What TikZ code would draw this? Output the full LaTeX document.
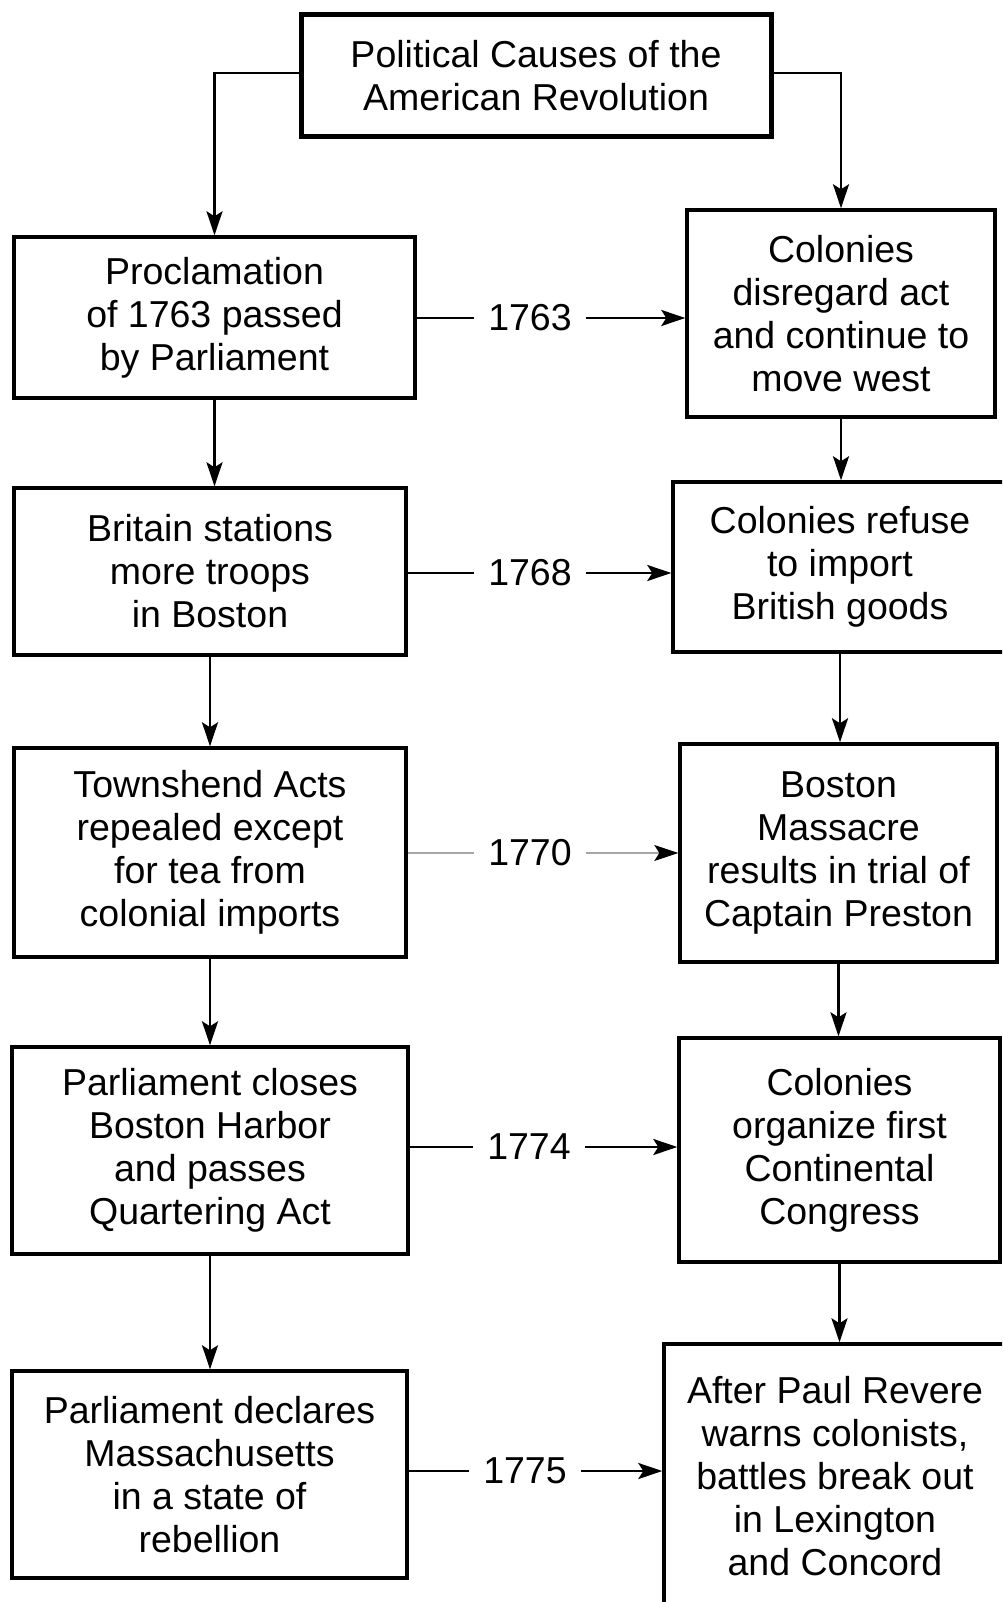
\documentclass[tikz,border=0pt]{standalone}
\usepackage{fontspec}
\setmainfont{Liberation Sans}
\usetikzlibrary{arrows.meta}

\tikzset{
  box/.style={draw, rectangle, line width=3.4pt, inner sep=0pt, align=center,
              font=\fontsize{37.5}{43}\selectfont},
  headbox/.style={box, line width=5pt},
  year/.style={inner xsep=14pt, inner ysep=2pt, font=\fontsize{37.5}{43}\selectfont},
  tip/.style={-{Stealth[length=24pt, width=16pt, inset=5pt]}},
  conn/.style={line width=2.6pt, tip},
  plain/.style={line width=2.6pt},
  faint/.style={line width=1.2pt, draw=black!35},
  faintarrow/.style={faint, -{Stealth[length=24pt, width=16pt, inset=5pt, color=black]}}
}

\begin{document}
\begin{tikzpicture}[x=1pt, y=-1pt]
  \useasboundingbox (0,0) rectangle (1002,1602);
  \clip (0,0) rectangle (1002,1602);
  \fill[white] (0,0) rectangle (1002,1602);

  % heading
  \node[headbox, minimum width=470pt, minimum height=122pt] (title) at (536,76)
    {Political Causes of the\\American Revolution};

  % British actions (left column)
  \node[box, minimum width=401pt, minimum height=161pt] (L1) at (214.5,317.5)
    {Proclamation\\of 1763 passed\\by Parliament};
  \node[box, minimum width=392pt, minimum height=167pt] (L2) at (210,571.5)
    {Britain stations\\more troops\\in Boston};
  \node[box, minimum width=392pt, minimum height=209pt] (L3) at (210,852.5)
    {Townshend Acts\\repealed except\\for tea from\\colonial imports};
  \node[box, minimum width=396pt, minimum height=207pt] (L4) at (210,1150.5)
    {Parliament closes\\Boston Harbor\\and passes\\Quartering Act};
  \node[box, minimum width=395pt, minimum height=207pt] (L5) at (209.5,1474.5)
    {Parliament declares\\Massachusetts\\in a state of\\rebellion};

  % colonial responses (right column)
  \node[box, minimum width=308pt, minimum height=207pt] (R1) at (841,313.5)
    {Colonies\\disregard act\\and continue to\\move west};
  \node[box, minimum width=334pt, minimum height=170pt] (R2) at (840,567)
    {Colonies refuse\\to import\\British goods};
  \node[box, minimum width=317pt, minimum height=218pt] (R3) at (838.5,853)
    {Boston\\Massacre\\results in trial of\\Captain Preston};
  \node[box, minimum width=321pt, minimum height=224pt] (R4) at (839.5,1150)
    {Colonies\\organize first\\Continental\\Congress};
  \node[box, minimum width=342pt, minimum height=264pt] (R5) at (835,1476)
    {After Paul Revere\\warns colonists,\\battles break out\\in Lexington\\and Concord};

  % heading to both columns
  \draw[conn] ([yshift=3pt]title.west) -| (L1.north);
  \draw[conn] ([yshift=3pt]title.east) -| (R1.north);

  % down the left column
  \draw[conn] (L1.south) -- (L1.south |- L2.north);
  \draw[conn] (L2.south) -- (L2.south |- L3.north);
  \draw[conn] (L3.south) -- (L3.south |- L4.north);
  \draw[conn] (L4.south) -- (L4.south |- L5.north);

  % down the right column
  \draw[conn] (R1.south) -- (R1.south |- R2.north);
  \draw[conn] (R2.south) -- (R2.south |- R3.north);
  \draw[conn] (R3.south) -- (R3.south |- R4.north);
  \draw[conn] (R4.south) -- (R4.south |- R5.north);

  % year labels
  \node[year] (y1) at (530,318) {1763};
  \node[year] (y2) at (530,573) {1768};
  \node[year] (y3) at (530,853) {1770};
  \node[year] (y4) at (529,1147) {1774};
  \node[year] (y5) at (525,1471) {1775};

  % cause-to-response links
  \draw[plain] (L1.east |- y1) -- (y1.west);
  \draw[conn] (y1.east) -- (y1.east -| R1.west);
  \draw[plain] (L2.east |- y2) -- (y2.west);
  \draw[conn] (y2.east) -- (y2.east -| R2.west);
  \draw[faint] (L3.east |- y3) -- (y3.west);
  \draw[faintarrow] (y3.east) -- (y3.east -| R3.west);
  \draw[plain] (L4.east |- y4) -- (y4.west);
  \draw[conn] (y4.east) -- (y4.east -| R4.west);
  \draw[plain] (L5.east |- y5) -- (y5.west);
  \draw[conn] (y5.east) -- (y5.east -| R5.west);
\end{tikzpicture}
\end{document}
